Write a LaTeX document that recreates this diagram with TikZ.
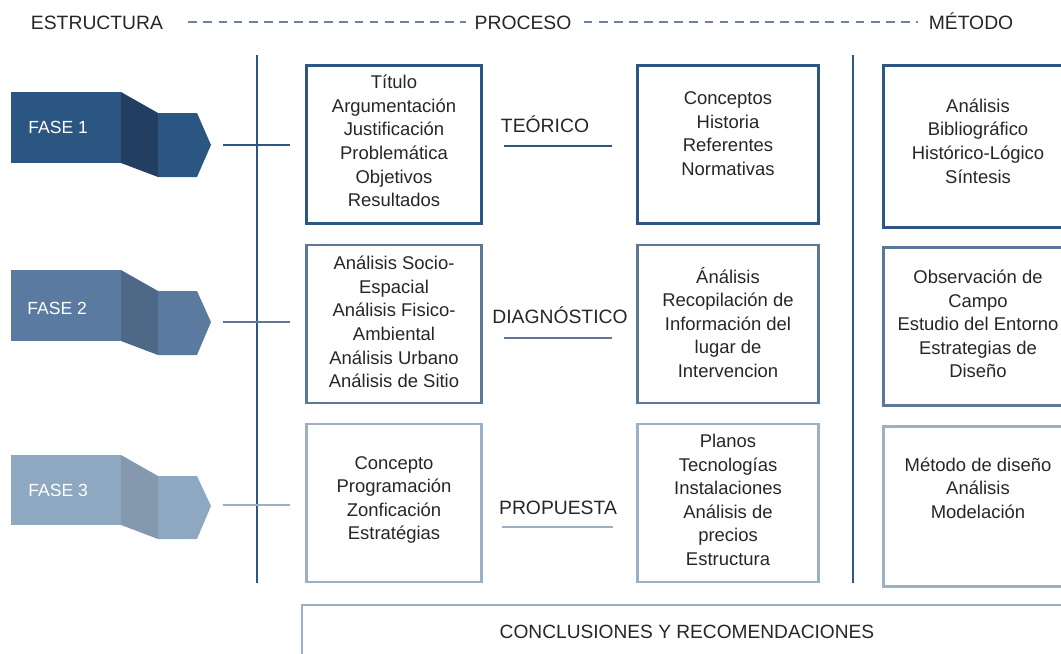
\documentclass[tikz,border=0pt]{standalone}
\usepackage{fontspec}
\setmainfont{Liberation Sans}
\usepackage{tikz}
\definecolor{faseA}{HTML}{2A5681}
\definecolor{faseAd}{HTML}{223F62}
\definecolor{faseB}{HTML}{5A7A9F}
\definecolor{faseBd}{HTML}{4E6987}
\definecolor{faseC}{HTML}{8FA8C1}
\definecolor{faseCd}{HTML}{8499AE}
\definecolor{colA}{HTML}{2E5683}
\definecolor{colB}{HTML}{5D7897}
\definecolor{colC}{HTML}{9CB0C5}
\definecolor{guion}{HTML}{6F8299}
\tikzset{head/.style={inner sep=0pt,text height=8pt,text depth=0pt,font=\fontsize{11}{13}\selectfont,text=black!85},
  txt/.style={align=center,inner sep=0pt,font=\fontsize{10.5}{13.4}\selectfont,text=black!85},
  fasetxt/.style={inner sep=0pt,font=\fontsize{10}{12}\selectfont,text=white},
  caja/.style={draw,line width=1.6pt,minimum height=3.16cm,inner sep=0pt},
  rowA/.style={draw=colA,line width=1.6pt},
  rowB/.style={draw=colB,line width=1.6pt},
  rowC/.style={draw=colC,line width=1.6pt},
  hdash/.style={draw=guion,line width=0.8pt,dash pattern=on 5pt off 3.6pt}}
\begin{document}
\begin{tikzpicture}[x=0.02cm,y=-0.02cm]
    \useasboundingbox (0,0) rectangle (1061,653);
    \clip (0,0) rectangle (1061,653);

    \node[head] (est) at (97,22) {ESTRUCTURA};
    \node[head] (pro) at (523,22) {PROCESO};
    \node[head] (met) at (971,22) {MÉTODO};
    \draw[hdash, shorten <=0.5cm, shorten >=0.16cm] (est) -- (pro);
    \draw[hdash, shorten <=0.24cm, shorten >=0.2cm] (pro) -- (met);

    \coordinate (v1t) at (257,55);
    \coordinate (v1b) at (257,583);
    \coordinate (v2t) at (853,55);
    \coordinate (v2b) at (853,583);
    \draw[rowA] (v1t) -- (v1b);
    \draw[rowA] (v2t) -- (v2b);

    \fill[faseA] (11,92) rectangle (121,163);
    \fill[faseAd] (121,92) -- (158,113) -- (158,177) -- (121,163) -- cycle;
    \fill[faseA] (158,113) -- (197,113) -- (211,145) -- (197,177) -- (158,177) -- cycle;
    \coordinate (f1tip) at (211,145);
    \node[fasetxt,anchor=west] (f1) at (28,127) {FASE 1};

    \fill[faseB] (11,270) rectangle (121,341);
    \fill[faseBd] (121,270) -- (158,291) -- (158,355) -- (121,341) -- cycle;
    \fill[faseB] (158,291) -- (197,291) -- (211,322) -- (197,355) -- (158,355) -- cycle;
    \coordinate (f2tip) at (211,322);
    \node[fasetxt,anchor=west] (f2) at (27,308) {FASE 2};

    \fill[faseC] (11,455) rectangle (121,525);
    \fill[faseCd] (121,455) -- (158,476) -- (158,539) -- (121,525) -- cycle;
    \fill[faseC] (158,476) -- (197,476) -- (211,506) -- (197,539) -- (158,539) -- cycle;
    \coordinate (f3tip) at (211,505);
    \node[fasetxt,anchor=west] (f3) at (28,490) {FASE 3};

    \node[caja,draw=colA,minimum width=3.5cm] (b11) at (394,144.5) {};
    \node[caja,draw=colA,minimum width=3.62cm] (b12) at (728,144.5) {};
    \node[caja,draw=colA,minimum width=3.8cm,minimum height=3.24cm] (b13) at (978.5,146.5) {};
    \node[caja,draw=colB,minimum width=3.5cm] (b21) at (394,324) {};
    \node[caja,draw=colB,minimum width=3.62cm] (b22) at (728,324) {};
    \node[caja,draw=colB,minimum width=3.8cm] (b23) at (978.5,326.5) {};
    \node[caja,draw=colC,minimum width=3.5cm] (b31) at (394,503) {};
    \node[caja,draw=colC,minimum width=3.62cm] (b32) at (728,503) {};
    \node[caja,draw=colC,minimum width=3.8cm,minimum height=3.2cm] (b33) at (978.5,506.5) {};
    \node[caja,draw=colC,minimum width=15.4cm,minimum height=1.06cm,txt,font=\fontsize{10.9}{13}\selectfont] (conc) at (687,631.5) {CONCLUSIONES Y RECOMENDACIONES};

    \node[txt] (t11) at (394,141) {Título\\Argumentación\\Justificación\\Problemática\\Objetivos\\Resultados};
    \node[txt] (t12) at (728,133.5) {Conceptos\\Historia\\Referentes\\Normativas};
    \node[txt] (t13) at (978,141) {Análisis\\Bibliográfico\\Histórico-Lógico\\Síntesis};
    \node[txt] (t21) at (394,322) {Análisis Socio-\\Espacial\\Análisis Fisico-\\Ambiental\\Análisis Urbano\\Análisis de Sitio};
    \node[txt] (t22) at (728,322.5) {Ánálisis\\Recopilación de\\Información del\\lugar de\\Intervencion};
    \node[txt] (t23) at (978,324) {Observación de\\Campo\\Estudio del Entorno\\Estrategias de\\Diseño};
    \node[txt] (t31) at (394,500) {Concepto\\Programación\\Zonficación\\Estratégias};
    \node[txt] (t32) at (728,500) {Planos\\Tecnologías\\Instalaciones\\Análisis de\\precios\\Estructura};
    \node[txt] (t33) at (978,488) {Método de diseño\\Análisis\\Modelación};

    \node[head] (teo) at (545,125) {TEÓRICO};
    \node[head] (dia) at (560,316) {DIAGNÓSTICO};
    \node[head] (prop) at (558,507) {PROPUESTA};

    \draw[rowA, shorten <=0.24cm, shorten >=0.3cm] (f1tip) -- (f1tip -| b11.west);
    \draw[rowB, shorten <=0.24cm, shorten >=0.3cm] (f2tip) -- (f2tip -| b21.west);
    \draw[rowC, shorten <=0.24cm, shorten >=0.3cm] (f3tip) -- (f3tip -| b31.west);

    \draw[rowA, shorten <=0.43cm, shorten >=0.49cm] ([yshift=-0.03cm]b11.east) -- ([yshift=-0.03cm]b12.west);
    \draw[rowB, shorten <=0.43cm, shorten >=0.49cm] ([yshift=-0.28cm]b21.east) -- ([yshift=-0.28cm]b22.west);
    \draw[rowC, shorten <=0.39cm, shorten >=0.47cm] ([yshift=-0.48cm]b31.east) -- ([yshift=-0.48cm]b32.west);
\end{tikzpicture}
\end{document}
